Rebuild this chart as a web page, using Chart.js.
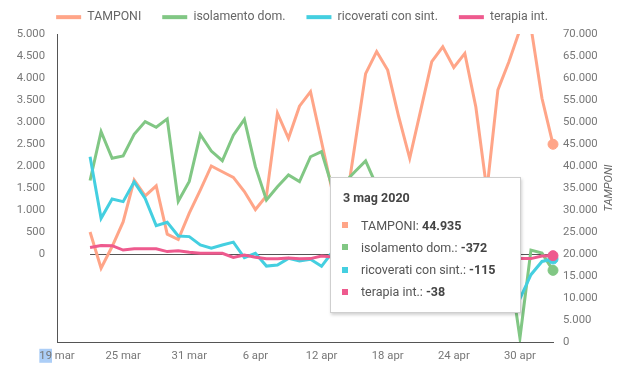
<!DOCTYPE html>
<html><head><meta charset="utf-8">
<script src="https://cdn.jsdelivr.net/npm/chart.js@4"></script>
<style>
html,body{margin:0;padding:0;background:#fff;}
#wrap{position:relative;width:633px;height:380px;}
#tt{position:absolute;display:none;background:#fff;border:1px solid #cfcfcf;box-shadow:1px 2px 3px rgba(0,0,0,0.18);font-family:Roboto,sans-serif;color:#555;box-sizing:border-box;pointer-events:none;}
#tt .t{position:absolute;left:12px;font-weight:bold;font-size:12.5px;color:#444;white-space:nowrap;line-height:16px;}
#tt .r{position:absolute;left:11px;font-size:12.5px;white-space:nowrap;line-height:16px;color:#555;}
#tt .sq{display:inline-block;width:6px;height:6px;margin-right:13px;vertical-align:middle;position:relative;top:-1px;}
#tt b{color:#444;}
</style></head>
<body><div id="wrap"><canvas id="c" width="633" height="380"></canvas><div id="tt"></div></div>
<script>
const categories = ['19 mar','20 mar','21 mar','22 mar','23 mar','24 mar','25 mar','26 mar','27 mar','28 mar','29 mar','30 mar','31 mar',
'1 apr','2 apr','3 apr','4 apr','5 apr','6 apr','7 apr','8 apr','9 apr','10 apr','11 apr','12 apr','13 apr','14 apr','15 apr',
'16 apr','17 apr','18 apr','19 apr','20 apr','21 apr','22 apr','23 apr','24 apr','25 apr','26 apr','27 apr','28 apr','29 apr','30 apr',
'1 mag','2 mag','3 mag'];
const year = '2020';
const seriesNames = ['TAMPONI','isolamento dom.','ricoverati con sint.','terapia int.'];
const tamponi = [null,null,null,25000,16750,21700,27300,36800,33200,35500,24500,23300,29300,
34500,40000,38700,37400,34200,30100,33200,52000,46300,53600,56900,45500,34000,27700,44300,
61000,66000,61800,51200,41750,52700,63700,67100,62400,65600,53400,34500,57300,63700,71000,
71600,55400,44935];
const isolamento = [null,null,null,1670,2780,2175,2230,2720,3010,2880,3070,1200,1650,
2715,2340,2120,2700,3060,1985,1230,1530,1795,1645,2210,2325,1500,1600,1865,
2115,1550,900,1200,-600,500,800,1100,300,600,-200,400,250,-180,-1910,
90,20,-372];
const ricoverati = [null,null,null,2210,810,1250,1190,1640,1265,645,720,410,395,
205,130,205,270,-85,15,-275,-250,-100,-160,-120,-280,50,-100,-250,
-180,-300,-150,-280,-220,-380,-250,-420,-300,-500,-380,-620,-480,-750,-1020,
-470,-170,-115];
const terapia = [null,null,null,150,195,190,90,120,120,120,55,75,40,
15,15,15,-80,-25,-75,-110,-110,-90,-110,-105,-45,-70,-90,-110,
-80,-120,-90,-100,-60,-90,-110,-80,-120,-90,-70,-100,-80,-95,-100,
-105,-45,-38];
const leftTicks = {min:-2000, max:5000, step:500};
const rightTicks = {min:0, max:70000, step:5000};
const colors = ['#FFA588','#81C784','#44CFE0','#EE5A8E'];

function fmt(v){
  const s = Math.abs(Math.round(v)).toString().replace(/\B(?=(\d{3})+(?!\d))/g,'.');
  return (v<0?'-':'')+s;
}

const tickFont = {family:'Roboto', size:11.3};
const tickColor = '#777';

function externalTooltip(context){
  const tt = context.tooltip;
  const el = document.getElementById('tt');
  if (!tt || tt.opacity === 0 || !tt.dataPoints || !tt.dataPoints.length){ el.style.display='none'; return; }
  const pts = tt.dataPoints.slice().sort((a,b)=>a.datasetIndex-b.datasetIndex);
  const idx = pts[0].dataIndex;
  let html = '<div class="t" style="top:12px">'+categories[idx]+' '+year+'</div>';
  pts.forEach((dp,i)=>{
    const ds = context.chart.data.datasets[dp.datasetIndex];
    html += '<div class="r" style="top:'+(39.2+i*22.2)+'px"><span class="sq" style="background:'+ds.borderColor+'"></span>'+
      ds.label+': <b>'+fmt(dp.raw)+'</b></div>';
  });
  el.innerHTML = html;
  const w = 191, h = 136;
  el.style.width = w+'px';
  el.style.height = h+'px';
  el.style.left = (tt.caretX - w - 32)+'px';
  el.style.top = (tt.caretY - 55)+'px';
  el.style.display = 'block';
}

const zeroLine = {
  id:'zeroLine',
  beforeDatasetsDraw(chart){
    const xs = chart.scales.x, ys = chart.scales.y, ctx = chart.ctx;
    const first = tamponi.findIndex(v=>v!==null);
    const x0 = xs.getPixelForValue(first), x1 = xs.getPixelForValue(categories.length-1);
    const py = Math.round(ys.getPixelForValue(0)) + 0.5;
    ctx.save(); ctx.strokeStyle='#555'; ctx.lineWidth=1;
    ctx.beginPath(); ctx.moveTo(x0,py); ctx.lineTo(x1,py); ctx.stroke(); ctx.restore();
  }
};

const rightTitle = {
  id:'rightTitle',
  afterDraw(chart){
    const ys = chart.scales.y1, ctx = chart.ctx;
    const cy = (chart.chartArea.top + chart.chartArea.bottom)/2;
    ctx.save();
    ctx.translate(ys.right + 5, cy);
    ctx.rotate(-Math.PI/2);
    ctx.font = 'italic 11px Roboto';
    ctx.fillStyle = '#666';
    ctx.textAlign = 'center'; ctx.textBaseline = 'middle';
    ctx.fillText(seriesNames[0], 0, 0);
    ctx.restore();
  }
};

const selection = {
  id:'selection',
  beforeDraw(chart){
    const xs = chart.scales.x, ctx = chart.ctx;
    ctx.save();
    ctx.font = tickFont.size+'px Roboto';
    const full = ctx.measureText(categories[0]).width;
    const part = ctx.measureText(categories[0].split(' ')[0]).width;
    const x0 = xs.getPixelForValue(0) - full/2;
    const cy = xs.top + 7 + tickFont.size*1.2/2;
    ctx.fillStyle = '#ACCEF7';
    ctx.fillRect(x0, cy-7, part, 14);
    ctx.restore();
  }
};

const legendFix = {
  id:'legendFix',
  beforeInit(chart){
    const lg = chart.legend;
    const f = lg.fit.bind(lg);
    lg.fit = function(){ f(); this.height = 34; };
  },
  afterLayout(chart){
    chart.legend.top = -10;
  }
};

function build(){
  Chart.defaults.font.family = 'Roboto';
  const series = [tamponi, isolamento, ricoverati, terapia];
  const datasets = series.map((d,i)=>({
    label: seriesNames[i],
    data: d,
    yAxisID: i===0 ? 'y1' : 'y',
    borderColor: colors[i],
    backgroundColor: colors[i],
    borderWidth: 3,
    pointRadius: 0,
    pointHoverRadius: 5,
    pointHoverBorderWidth: 1,
    pointHoverBackgroundColor: colors[i],
    pointHoverBorderColor: colors[i],
    tension: 0,
    spanGaps: false,
    order: 4-i,
    clip: {left: 8, right: 8, top: 0, bottom: 0}
  }));
  const chart = new Chart(document.getElementById('c'), {
    type:'line',
    data:{labels:categories, datasets},
    options:{
      responsive:false,
      animation:false,
      devicePixelRatio:1,
      events:[],
      layout:{padding:{left:0,right:29,top:0,bottom:0}},
      interaction:{mode:'index', intersect:false},
      plugins:{
        legend:{
          position:'top', align:'center',
          labels:{
            boxWidth:25, boxHeight:4, padding:21, color:'#666',
            font:{family:'Roboto', size:12.3},
            generateLabels(ch){
              return ch.data.datasets.map((ds,i)=>({text:ds.label, fillStyle:ds.borderColor, strokeStyle:ds.borderColor, lineWidth:0, hidden:false, datasetIndex:i, fontColor:'#666'}));
            }
          }
        },
        tooltip:{enabled:false, mode:'index', intersect:false, position:'average', external: externalTooltip}
      },
      scales:{
        x:{
          type:'category', offset:false,
          grid:{display:false, drawTicks:false},
          border:{display:true, color:'#555', width:1},
          ticks:{autoSkip:false, maxRotation:0, padding:7, color:tickColor, font:tickFont,
            callback(v, i){ return i % 6 === 0 ? categories[i] : ''; }},
          afterFit(s){ s.height = 38; }
        },
        y:{
          position:'left', min:leftTicks.min, max:leftTicks.max,
          grid:{display:false, drawTicks:false},
          border:{display:true, color:'#555', width:1},
          ticks:{stepSize:leftTicks.step, padding:12, color:tickColor, font:tickFont,
            callback(v){ return v < 0 ? '' : fmt(v); }},
          afterFit(s){ s.width = 57; }
        },
        y1:{
          position:'right', min:rightTicks.min, max:rightTicks.max,
          grid:{display:false, drawTicks:false},
          border:{display:false},
          ticks:{stepSize:rightTicks.step, padding:10, color:tickColor, font:tickFont,
            callback(v){ return fmt(v); }},
          afterFit(s){ s.width = 51; }
        }
      }
    },
    plugins:[legendFix, zeroLine, rightTitle, selection]
  });
  const last = categories.length - 1;
  const act = datasets.map((d,i)=>({datasetIndex:i, index:last}));
  chart.setActiveElements(act);
  chart.tooltip.setActiveElements(act, {x: chart.scales.x.getPixelForValue(last), y: 200});
  chart.update();
}

Promise.all(['12px Roboto','bold 12px Roboto','italic 12px Roboto'].map(f=>document.fonts.load(f)))
  .then(build, build);
</script>
</body></html>
